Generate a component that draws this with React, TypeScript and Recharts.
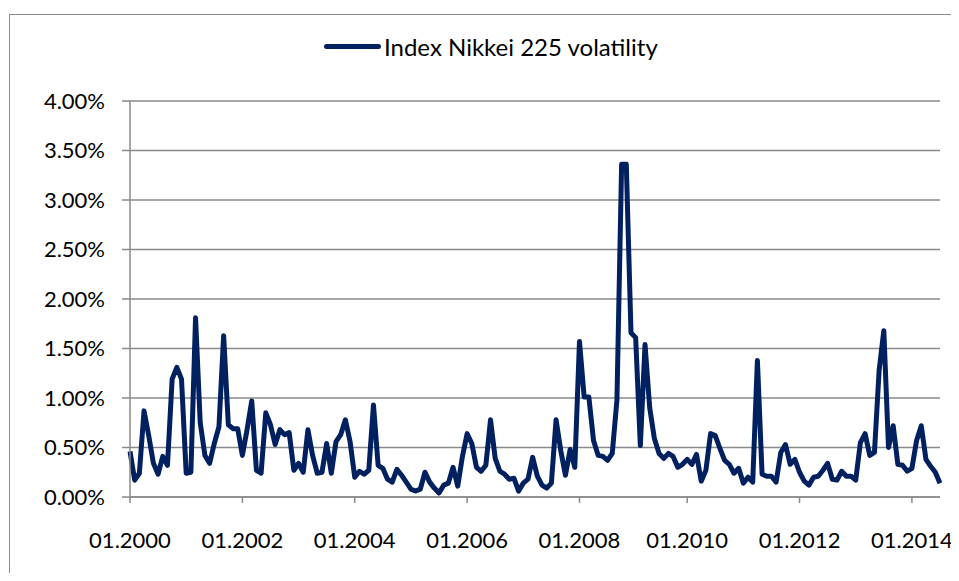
import React from 'react';
import { LineChart, Line, XAxis, YAxis, CartesianGrid } from 'recharts';

// monthly volatility of the Nikkei 225, in percent, 01.2000 – mid 2014
const volatility = [
  0.46, 0.17, 0.24, 0.87, 0.62, 0.34, 0.23, 0.41, 0.32, 1.19,
  1.31, 1.19, 0.24, 0.25, 1.81, 0.75, 0.42, 0.34, 0.54, 0.71,
  1.63, 0.73, 0.69, 0.69, 0.42, 0.68, 0.97, 0.27, 0.24, 0.85,
  0.73, 0.53, 0.68, 0.63, 0.65, 0.27, 0.34, 0.25, 0.68, 0.42,
  0.24, 0.25, 0.54, 0.24, 0.56, 0.63, 0.78, 0.56, 0.20, 0.26,
  0.23, 0.27, 0.93, 0.32, 0.29, 0.18, 0.15, 0.28, 0.22, 0.15,
  0.08, 0.06, 0.08, 0.25, 0.15, 0.09, 0.04, 0.12, 0.14, 0.30,
  0.11, 0.41, 0.64, 0.54, 0.30, 0.26, 0.32, 0.78, 0.39, 0.26,
  0.23, 0.18, 0.19, 0.06, 0.14, 0.18, 0.40, 0.21, 0.12, 0.09,
  0.14, 0.78, 0.47, 0.22, 0.48, 0.30, 1.57, 1.01, 1.01, 0.57,
  0.42, 0.41, 0.37, 0.44, 0.98, 3.36, 3.36, 1.66, 1.61, 0.52,
  1.54, 0.90, 0.59, 0.44, 0.39, 0.44, 0.41, 0.30, 0.33, 0.38,
  0.33, 0.43, 0.16, 0.27, 0.64, 0.62, 0.49, 0.37, 0.33, 0.24,
  0.29, 0.14, 0.20, 0.15, 1.38, 0.23, 0.21, 0.21, 0.15, 0.45,
  0.53, 0.33, 0.38, 0.25, 0.16, 0.12, 0.20, 0.21, 0.27, 0.34,
  0.18, 0.17, 0.26, 0.21, 0.21, 0.17, 0.55, 0.64, 0.42, 0.45,
  1.28, 1.68, 0.50, 0.72, 0.33, 0.32, 0.26, 0.29, 0.57, 0.72,
  0.38, 0.31, 0.25, 0.14,
];

const tickLabels = ['01.2000', '01.2002', '01.2004', '01.2006', '01.2008', '01.2010', '01.2012', '01.2014'];
const tickIdx = [0, 24, 48, 72, 96, 119, 143, 167];
const yTicks = [0, 0.5, 1, 1.5, 2, 2.5, 3, 3.5, 4];

const data = volatility.map((v, i) => ({ idx: i, vol: v }));

const FONT = 'Lato, "Open Sans", sans-serif';
const GRID = '#8a8a8a';
const NAVY = '#002060';

export default function App() {
  return (
    <div style={{ position: 'relative', width: 951, height: 573, marginBottom: -8, overflow: 'hidden', fontFamily: FONT }}>
      <div
        style={{
          position: 'absolute', left: 1, top: 6, width: 945, height: 600,
          border: `1.5px solid ${GRID}`, boxSizing: 'border-box',
        }}
      />
      <div style={{ position: 'absolute', left: 316, top: 24, display: 'flex', alignItems: 'center' }}>
        <div style={{ width: 57, height: 5, borderRadius: 3, background: NAVY }} />
        <span style={{ marginLeft: 3, fontSize: 24, color: '#000' }}>Index Nikkei 225 volatility</span>
      </div>
      <LineChart
        width={951}
        height={565}
        data={data}
        margin={{ top: 93, right: 19, bottom: 0, left: 0 }}
        style={{ position: 'absolute', left: 0, top: 0 }}
      >
        <CartesianGrid vertical={false} stroke={GRID} strokeWidth={1.5} />
        <XAxis
          dataKey="idx"
          type="number"
          domain={[0, volatility.length - 1]}
          ticks={tickIdx}
          tickFormatter={(v) => tickLabels[tickIdx.indexOf(v)] ?? ''}
          height={76}
          tickSize={6}
          tickMargin={29}
          stroke={GRID}
          strokeWidth={1.5}
          tick={{ fill: '#000', fontSize: 22, fontFamily: FONT }}
          interval={0}
        />
        <YAxis
          domain={[0, 4]}
          ticks={yTicks}
          width={122}
          tickSize={8}
          tickMargin={17}
          stroke={GRID}
          strokeWidth={1.5}
          tickFormatter={(v) => `${v.toFixed(2)}%`}
          tick={{ fill: '#000', fontSize: 22, fontFamily: FONT }}
          interval={0}
        />
        <Line
          type="linear"
          dataKey="vol"
          stroke={NAVY}
          strokeWidth={5}
          strokeLinejoin="round"
          dot={false}
          isAnimationActive={false}
        />
      </LineChart>
    </div>
  );
}
